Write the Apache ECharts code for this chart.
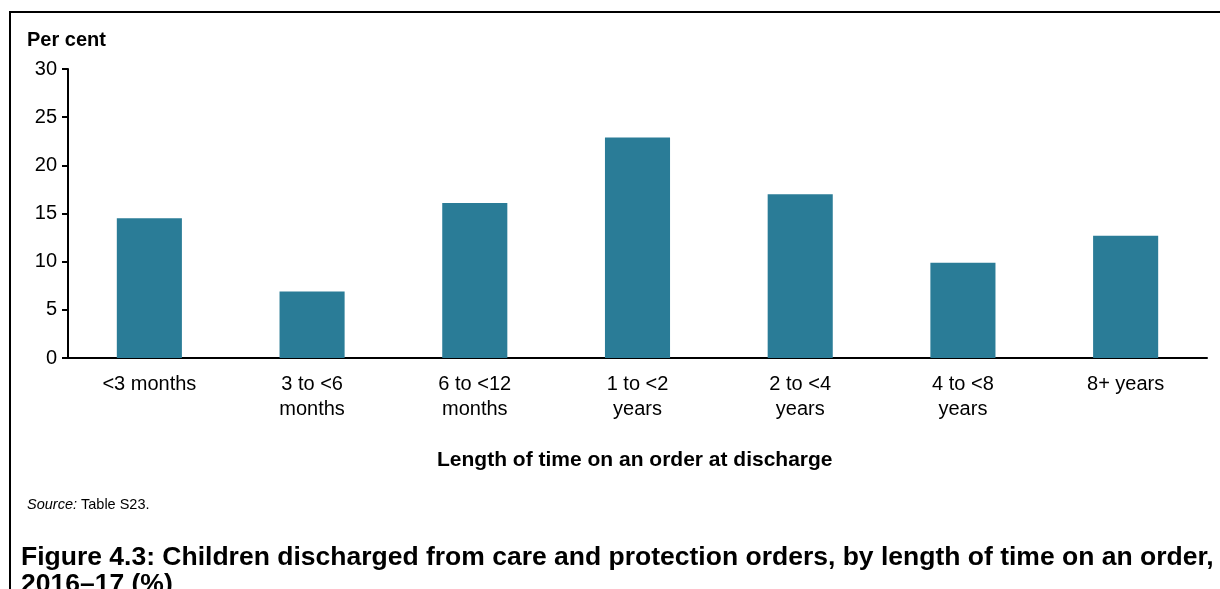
<!DOCTYPE html>
<html>
<head>
<meta charset="utf-8">
<script src="https://cdn.jsdelivr.net/npm/echarts@6/dist/echarts.min.js"></script>
<style>
  html, body { margin: 0; padding: 0; background: #fff; }
  #chart { width: 1220px; height: 589px; }
  .frame {
    position: absolute; left: 9px; top: 11px; width: 1300px; height: 700px;
    border-left: 2px solid #000; border-top: 2px solid #000; pointer-events: none;
  }
</style>
</head>
<body>
<div id="chart"></div>
<div class="frame"></div>
<script>
// categories and values (per cent)
const categories = ['<3 months', '3 to <6\nmonths', '6 to <12\nmonths', '1 to <2\nyears', '2 to <4\nyears', '4 to <8\nyears', '8+ years']
const values = [14.5, 6.9, 16.1, 22.9, 17.0, 9.9, 12.7]
const yTicks = [0, 5, 10, 15, 20, 25, 30]

const FONT = 'Arial, "Liberation Sans", sans-serif'

const chart = echarts.init(document.getElementById('chart'), null, { renderer: 'canvas' })

chart.setOption({
  animation: false,
  backgroundColor: '#fff',
  grid: { left: 68, right: 13, top: 69, bottom: 231 },
  xAxis: {
    type: 'category',
    data: categories,
    axisLine: { lineStyle: { color: '#000', width: 2 } },
    axisTick: { show: false },
    axisLabel: {
      color: '#000', fontSize: 20, fontFamily: FONT,
      lineHeight: 25, margin: 14, interval: 0
    }
  },
  yAxis: {
    type: 'value',
    min: yTicks[0],
    max: yTicks[yTicks.length - 1],
    interval: 5,
    axisLine: { show: true, lineStyle: { color: '#000', width: 2 } },
    axisTick: { show: true, length: 6, lineStyle: { color: '#000', width: 2 } },
    splitLine: { show: false },
    axisLabel: { color: '#000', fontSize: 20, fontFamily: FONT, margin: 11 }
  },
  series: [{
    type: 'bar',
    data: values,
    barWidth: '40%',
    itemStyle: { color: '#2a7c97' }
  }],
  graphic: [
    {
      type: 'text', left: 27, top: 30,
      style: { text: 'Per cent', fontSize: 20, fontWeight: 'bold', fontFamily: FONT, fill: '#000' }
    },
    {
      type: 'text', left: 437, top: 450,
      style: { text: 'Length of time on an order at discharge', fontSize: 21, fontWeight: 'bold', fontFamily: FONT, fill: '#000' }
    },
    {
      type: 'text', left: 27, top: 497,
      style: {
        text: '{i|Source:} Table S23.',
        fontSize: 14.5, fontFamily: FONT, fill: '#000',
        rich: { i: { fontStyle: 'italic', fontSize: 14.5, fontFamily: FONT } }
      }
    },
    {
      type: 'text', left: 21, top: 544,
      style: {
        text: 'Figure 4.3: Children discharged from care and protection orders, by length of time on an order,\n2016–17 (%)',
        fontSize: 26.5, fontWeight: 'bold', fontFamily: FONT, fill: '#000', lineHeight: 27
      }
    }
  ]
})
</script>
</body>
</html>
